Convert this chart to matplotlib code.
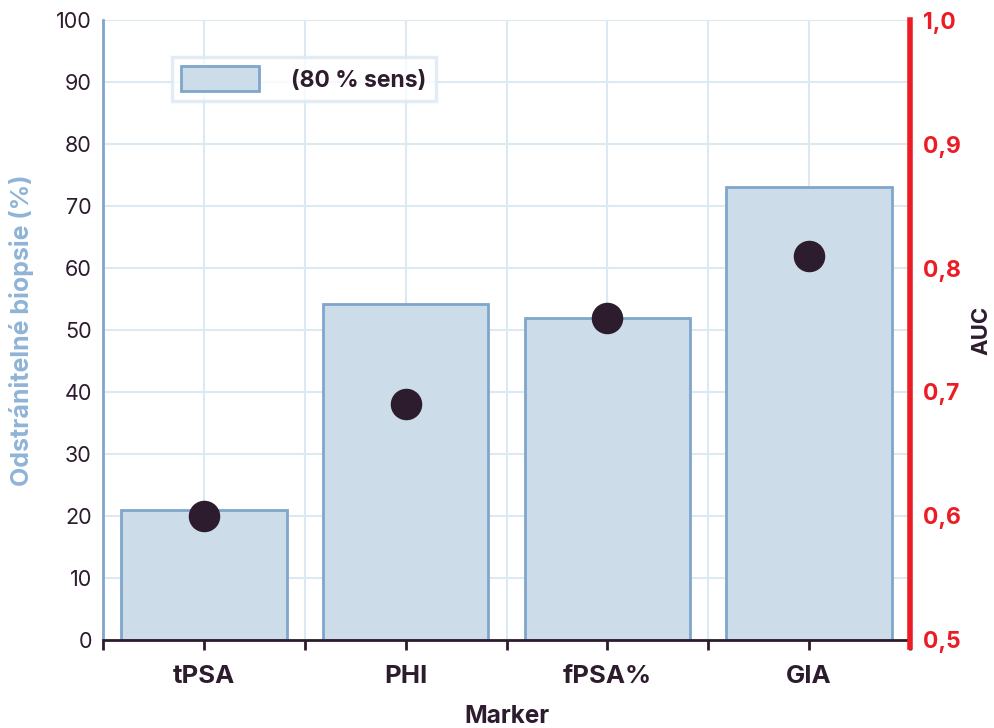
import numpy as np
import matplotlib.pyplot as plt

# Data
markers = ['tPSA', 'PHI', 'fPSA%', 'GIA']
biopsies = [21, 54.2, 52, 73.1]      # avoidable biopsies (%) at 80 % sensitivity
auc = [0.60, 0.69, 0.76, 0.81]

dark = '#2d1b2e'
bar_fill = '#ccdce9'
bar_edge = '#7fa6cb'
grid_col = '#dce8f2'
red = '#ec1c24'

plt.rcParams['font.family'] = ['Inter', 'DejaVu Sans']

fig = plt.figure(figsize=(9.95, 7.28), dpi=100)
ax = fig.add_axes([0.1035, 0.1209, 0.8111, 0.8516])

x = np.arange(len(markers)) + 0.5
ax.bar(x, biopsies, width=0.82, color=bar_fill, edgecolor=bar_edge,
       linewidth=2, label='(80 % sens)', zorder=2)

ax.set_xlim(0, len(markers))
ax.set_ylim(0, 100)
ax.set_yticks(np.arange(0, 101, 10))
ax.set_xticks(x)
ax.set_xticklabels(markers, fontsize=18.5, fontweight='bold', color=dark)
ax.set_xticks(np.arange(0, len(markers) + 1), minor=True)
ax.tick_params(axis='x', which='both', length=7, width=2, color=dark, pad=11)
ax.tick_params(axis='y', length=0, labelsize=15.5, labelcolor=dark, pad=8)

ax.grid(True, which='both', color=grid_col, linewidth=1.5, zorder=0)
ax.set_axisbelow(True)

for s in ['top', 'right']:
    ax.spines[s].set_visible(False)
ax.spines['left'].set_color(bar_edge)
ax.spines['left'].set_linewidth(2)
ax.spines['bottom'].set_color(dark)
ax.spines['bottom'].set_linewidth(2)

ax.set_ylabel('Odstránitelné biopsie (%)', fontsize=18, fontweight='bold',
              color='#8fb4d8', labelpad=16)
ax.set_xlabel('Marker', fontsize=17.5, fontweight='bold', color=dark, labelpad=12)

leg = ax.legend(loc='upper left', bbox_to_anchor=(0.0855, 0.94), frameon=True,
                fancybox=False, edgecolor=grid_col, fontsize=16.5,
                handlelength=3.4, handleheight=1.3, borderpad=0.4,
                handletextpad=1.4, borderaxespad=0)
leg.get_frame().set_linewidth(2.5)
for t in leg.get_texts():
    t.set_fontweight('bold')
    t.set_color(dark)

# AUC on the right axis
ax2 = ax.twinx()
ax2.scatter(x, auc, s=470, color=dark, zorder=5)
ax2.set_ylim(0.5, 1.0)
ax2.set_yticks([0.5, 0.6, 0.7, 0.8, 0.9, 1.0])
ax2.set_yticklabels(['0,5', '0,6', '0,7', '0,8', '0,9', '1,0'])
ax2.tick_params(axis='y', length=0, labelsize=16.5, labelcolor=red, pad=9)
for lab in ax2.get_yticklabels():
    lab.set_fontweight('bold')
for s in ['top', 'left', 'bottom']:
    ax2.spines[s].set_visible(False)
ax2.spines['right'].set_color(red)
ax2.spines['right'].set_linewidth(4)
ax2.spines['right'].set_bounds(0.494, 1.0)
ax2.set_ylabel('AUC', fontsize=16, fontweight='bold', color=dark, labelpad=8)

fig.savefig('out.png', dpi=100)
